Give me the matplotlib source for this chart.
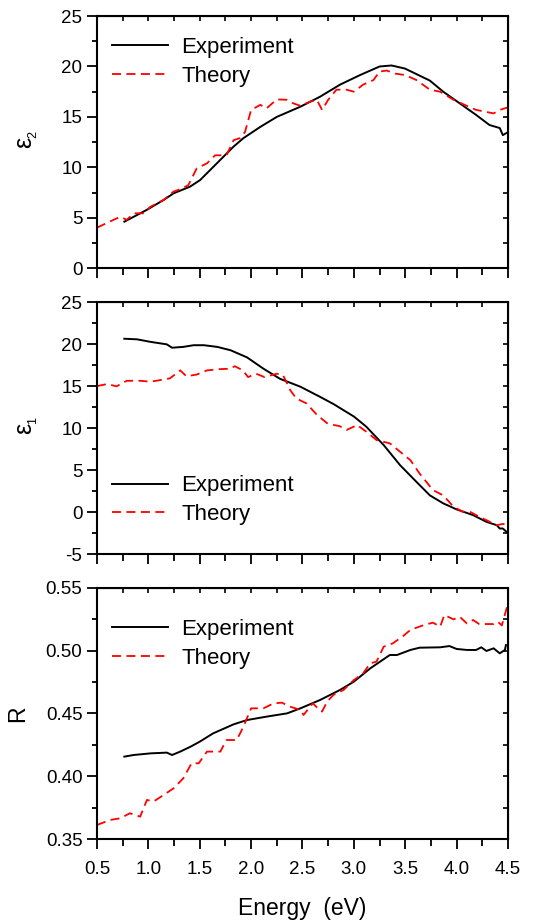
import numpy as np
import matplotlib
matplotlib.use("Agg")
import matplotlib.pyplot as plt
from matplotlib.ticker import MultipleLocator, FormatStrFormatter

plt.rcParams['font.family'] = ['Liberation Sans', 'DejaVu Sans']
plt.rcParams['mathtext.fontset'] = 'custom'
plt.rcParams['mathtext.rm'] = 'Liberation Sans'
plt.rcParams['mathtext.it'] = 'Liberation Sans:italic'

# --- eps2 (imaginary part) ---
e2_exp_x = [0.766, 0.856, 0.986, 1.148, 1.245, 1.407, 1.504, 1.666, 1.828, 1.925, 2.087, 2.249,
            2.476, 2.67, 2.865, 3.06, 3.25, 3.367, 3.496, 3.74, 3.87, 4.03, 4.19, 4.32, 4.42, 4.45, 4.5]
e2_exp_y = [4.62, 5.1, 5.8, 6.77, 7.43, 8.1, 8.75, 10.4, 12.05, 12.9, 14.0, 15.0,
            16.0, 17.0, 18.2, 19.15, 20.0, 20.1, 19.8, 18.6, 17.5, 16.35, 15.2, 14.2, 13.9, 13.2, 13.5]
e2_th_x = [0.5, 0.66, 0.727, 0.79, 0.856, 0.95, 1.02, 1.148, 1.245, 1.326, 1.39, 1.47, 1.57, 1.65,
           1.76, 1.83, 1.89, 1.94, 2.0, 2.09, 2.15, 2.25, 2.35, 2.41, 2.48, 2.57, 2.64, 2.69, 2.75,
           2.83, 2.93, 3.0, 3.09, 3.19, 3.25, 3.32, 3.4, 3.5, 3.61, 3.74, 3.84, 3.97, 4.1, 4.19,
           4.36, 4.42, 4.5]
e2_th_y = [4.03, 4.8, 5.1, 4.8, 5.45, 5.45, 6.1, 6.77, 7.6, 7.9, 8.26, 9.9, 10.4, 11.2,
           11.2, 12.7, 12.9, 13.5, 15.7, 16.2, 15.85, 16.74, 16.7, 16.35, 16.1, 16.5, 16.7, 15.7, 16.7,
           17.7, 17.7, 17.5, 18.2, 18.65, 19.5, 19.6, 19.3, 19.15, 18.65, 17.7, 17.5, 16.7, 16.1, 15.7,
           15.35, 15.7, 15.95]

# --- eps1 (real part) ---
e1_exp_x = [0.766, 0.89, 1.02, 1.18, 1.23, 1.34, 1.44, 1.54, 1.67, 1.8, 1.96, 2.12, 2.28, 2.48,
            2.67, 2.8, 3.0, 3.12, 3.29, 3.45, 3.61, 3.74, 3.87, 4.0, 4.16, 4.29, 4.39, 4.42, 4.45, 4.5]
e1_exp_y = [20.67, 20.6, 20.3, 20.0, 19.6, 19.7, 19.9, 19.9, 19.7, 19.3, 18.45, 17.1, 15.9, 14.95,
            13.75, 12.9, 11.4, 10.2, 8.0, 5.6, 3.6, 2.0, 1.05, 0.33, -0.35, -1.15, -1.55, -1.95, -1.95, -2.5]
e1_th_x = [0.5, 0.6, 0.69, 0.79, 0.92, 1.02, 1.12, 1.21, 1.31, 1.37, 1.47, 1.57, 1.7, 1.8, 1.84,
           1.92, 1.97, 2.05, 2.13, 2.25, 2.31, 2.38, 2.44, 2.54, 2.64, 2.74, 2.8, 2.86, 2.93, 3.0,
           3.03, 3.12, 3.22, 3.35, 3.45, 3.55, 3.64, 3.77, 3.87, 3.97, 4.06, 4.13, 4.22, 4.29,
           4.39, 4.45, 4.5]
e1_th_y = [15.03, 15.27, 15.0, 15.66, 15.66, 15.55, 15.75, 15.95, 16.9, 16.2, 16.4, 16.9, 17.05, 17.1, 17.4,
           16.9, 16.1, 16.5, 16.1, 16.5, 16.35, 14.55, 13.55, 12.96, 11.6, 10.6, 10.4, 10.26, 9.8, 10.2,
           10.4, 9.6, 8.6, 8.2, 7.2, 6.2, 4.6, 2.63, 2.0, 0.65, 0.05, 0.05, -0.55, -0.95,
           -1.55, -1.4, -1.55]

# --- reflectivity ---
r_exp_x = [0.766, 0.856, 1.02, 1.18, 1.23, 1.31, 1.41, 1.5, 1.63, 1.83, 1.96, 2.15, 2.35, 2.48,
           2.67, 2.865, 3.0, 3.16, 3.35, 3.42, 3.55, 3.64, 3.84, 3.93, 4.0, 4.1, 4.19, 4.24, 4.29,
           4.36, 4.42, 4.47, 4.48]
r_exp_y = [0.4157, 0.417, 0.4183, 0.4189, 0.417, 0.4197, 0.4236, 0.4276, 0.4342, 0.4414, 0.4448, 0.4475,
           0.4501, 0.4541, 0.4607, 0.4687, 0.4753, 0.4859, 0.4965, 0.4965, 0.5005, 0.5023, 0.5026, 0.5036,
           0.5013, 0.5005, 0.5005, 0.5026, 0.4997, 0.5018, 0.4978, 0.5005, 0.5044]
r_th_x = [0.5, 0.63, 0.727, 0.82, 0.92, 0.986, 1.05, 1.148, 1.245, 1.34, 1.42, 1.49, 1.57, 1.7, 1.76,
          1.86, 1.925, 2.0, 2.12, 2.22, 2.3, 2.38, 2.48, 2.51, 2.6, 2.65, 2.69, 2.74, 2.8, 2.9, 3.0,
          3.09, 3.16, 3.22, 3.29, 3.38, 3.48, 3.55, 3.68, 3.77, 3.84, 3.88, 3.97, 4.03, 4.1, 4.16,
          4.22, 4.36, 4.4, 4.44, 4.5]
r_th_y = [0.3614, 0.3654, 0.3667, 0.3707, 0.368, 0.3813, 0.38, 0.3852, 0.3905, 0.3985, 0.4104, 0.4104,
          0.4197, 0.4197, 0.4289, 0.4289, 0.4395, 0.4541, 0.4541, 0.4581, 0.4586, 0.4554, 0.4528, 0.4488,
          0.4581, 0.4541, 0.4515, 0.4594, 0.4647, 0.4687, 0.4766, 0.4819, 0.4899, 0.4912, 0.5031, 0.5058,
          0.5116, 0.5164, 0.5203, 0.5222, 0.519, 0.5283, 0.5248, 0.5269, 0.5216, 0.5243, 0.5211, 0.5211,
          0.523, 0.52, 0.5375]

fig = plt.figure(figsize=(5.49, 9.22), dpi=100)
L, W = 0.1767, 0.7486
boxes = [(0.709, 0.2736), (0.399, 0.2730), (0.0897, 0.2729)]

# (exp x, exp y, theory x, theory y, label, subscript, ylim, major, minor, fmt, legend anchor)
panels = [
    (e2_exp_x, e2_exp_y, e2_th_x, e2_th_y, 'ε', '2', (0, 25), 5, 2.5, '%d', (0.0, 0.976)),
    (e1_exp_x, e1_exp_y, e1_th_x, e1_th_y, 'ε', '1', (-5, 25), 5, 2.5, '%d', (0.0, 0.373)),
    (r_exp_x, r_exp_y, r_th_x, r_th_y, 'R', '', (0.35, 0.55), 0.05, 0.025, '%.2f', (0.0, 0.935)),
]

for i, (ex, ey, tx, ty, ylab, sub, ylim, maj, mnr, fmt, anchor) in enumerate(panels):
    b, h = boxes[i]
    ax = fig.add_axes([L, b, W, h])
    ax.plot(ex, ey, color='black', lw=1.4, label='Experiment')
    ax.plot(tx, ty, color='red', lw=1.3, dashes=(5, 3), label='Theory')
    ax.set_xlim(0.5, 4.5)
    ax.set_ylim(*ylim)
    ax.xaxis.set_major_locator(MultipleLocator(0.5))
    ax.xaxis.set_minor_locator(MultipleLocator(0.25))
    ax.xaxis.set_major_formatter(FormatStrFormatter('%.1f'))
    ax.yaxis.set_major_locator(MultipleLocator(maj))
    ax.yaxis.set_minor_locator(MultipleLocator(mnr))
    ax.yaxis.set_major_formatter(FormatStrFormatter(fmt))
    ax.tick_params(which='major', direction='out', length=7, width=1.3, labelsize=13.5)
    ax.tick_params(which='minor', direction='out', length=5, width=1.3)
    ax.tick_params(axis='y', which='minor', length=3.5)
    ax.tick_params(axis='x', which='major', pad=8.5)
    for s in ax.spines.values():
        s.set_linewidth(1.5)
    # small inward ticks on top and right
    top = ax.secondary_xaxis('top')
    top.xaxis.set_major_locator(MultipleLocator(0.5))
    top.xaxis.set_minor_locator(MultipleLocator(0.25))
    top.tick_params(which='both', direction='in', length=3.5, width=1.2, labeltop=False)
    right = ax.secondary_yaxis('right')
    right.yaxis.set_major_locator(MultipleLocator(maj))
    right.yaxis.set_minor_locator(MultipleLocator(mnr))
    right.tick_params(which='both', direction='in', length=3.5, width=1.2, labelright=False)
    if sub:
        ax.set_ylabel(ylab, fontsize=18, labelpad=18)
        ax.annotate(sub, xy=(1, 1), xycoords=ax.yaxis.label, xytext=(2, -1),
                    textcoords='offset points', rotation=90, fontsize=9, ha='right', va='bottom')
    else:
        ax.set_ylabel(ylab, fontsize=16.5, labelpad=12)
    if i < 2:
        ax.tick_params(axis='x', labelbottom=False)
    else:
        ax.set_xlabel('Energy  (eV)', fontsize=16.5, labelpad=14)
    ax.legend(loc='upper left', bbox_to_anchor=anchor, frameon=False, fontsize=16,
              handlelength=2.5, handletextpad=0.6, labelspacing=0.35, borderaxespad=0.28)

fig.savefig('out.png', dpi=100)
